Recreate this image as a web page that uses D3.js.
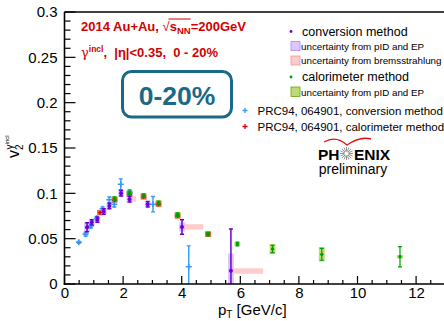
<!DOCTYPE html>
<html>
<head>
<meta charset="utf-8">
<script src="https://cdn.jsdelivr.net/npm/d3@7"></script>
<style>
  html, body { margin: 0; padding: 0; background: #fff; }
  svg { display: block; font-family: "Liberation Sans", Arial, Helvetica, sans-serif; }
</style>
</head>
<body>
<svg id="chart" width="444" height="321"></svg>
<script>
// 2014 Au+Au conversion method (photon v2)
const convPt   = [0.77, 0.93, 1.12, 1.34, 1.53, 1.93, 2.22, 2.84, 4.01, 5.68];
const convV2   = [0.0625, 0.068, 0.071, 0.080, 0.086, 0.100, 0.0934, 0.088, 0.063, 0.0147];
const convStat = [0.005, 0.003, 0.003, 0.003, 0.003, 0.003, 0.003, 0.003, 0.008, 0.046];
const convSys  = [0.0055, 0.004, 0.003, 0.003, 0.003, 0.004, 0.004, 0.003, 0.005, 0.019];
// bremsstrahlung uncertainty boxes (pT extent to the right, half height)
const bremPt   = [2.22, 4.01, 5.68];
const bremV2   = [0.0935, 0.063, 0.0143];
const bremDx   = [0.22, 0.72, 1.1];
const bremHalf = [0.003, 0.003, 0.003];

// 2014 Au+Au calorimeter method
const caloPt   = [1.71, 2.22, 2.70, 3.21, 3.86, 4.90, 5.90, 7.10, 8.78, 11.45];
const caloV2   = [0.094, 0.1005, 0.0975, 0.0895, 0.0765, 0.055, 0.0441, 0.0386, 0.0327, 0.030];
const caloStat = [0.002, 0.002, 0.002, 0.002, 0.002, 0.002, 0.002, 0.004, 0.0065, 0.0112];
const caloSys  = [0.003, 0.003, 0.003, 0.003, 0.003, 0.003, 0.002, 0.0055, 0.008, 0.002];

// PRC94, 064901 conversion method
const prcConvPt   = [0.49, 0.72, 0.90, 1.10, 1.30, 1.53, 1.70, 1.92, 2.22, 3.02, 4.24];
const prcConvV2   = [0.046, 0.055, 0.064, 0.0725, 0.083, 0.093, 0.088, 0.110, 0.101, 0.088, 0.019];
const prcConvStat = [0.001, 0.002, 0.002, 0.002, 0.002, 0.003, 0.003, 0.006, 0.003, 0.0085, 0.023];

// PRC94, 064901 calorimeter method
const prcCaloPt  = [1.21, 1.71, 2.22, 2.70, 3.21, 3.86, 4.90];
const prcCaloV2  = [0.0787, 0.0926, 0.099, 0.096, 0.088, 0.075, 0.055];
const prcCaloSys = [0.003, 0.003, 0.003, 0.003, 0.003, 0.003, 0.003];

const xTicks = [0, 2, 4, 6, 8, 10, 12];
const yTicks = [0, 0.05, 0.1, 0.15, 0.2, 0.25, 0.3];

const svg = d3.select("#chart");
const x = d3.scaleLinear().domain([0, 13]).range([64.5, 445.4]);
const y = d3.scaleLinear().domain([0, 0.3]).range([284, 12]);

const C = {
  conv: "#6a00d8", convBox: "rgba(200,160,255,0.6)", brem: "rgba(255,170,170,0.6)",
  calo: "#00a000", caloBox: "rgba(150,200,40,0.65)",
  prcConv: "#3399ff", prcCalo: "#e00000", prcCaloBox: "rgba(240,70,30,0.8)"
};

const plot = svg.append("g");
const clipId = "plotclip";
svg.append("defs").append("clipPath").attr("id", clipId)
  .append("rect").attr("x", 64.5).attr("y", 12).attr("width", 381).attr("height", 272);
const data = plot.append("g").attr("clip-path", `url(#${clipId})`);

const half = 0.1; // half width of systematic boxes in GeV/c
function boxes(pt, v, h, fill) {
  data.append("g").selectAll("rect").data(pt).join("rect")
    .attr("x", (d) => x(d - half)).attr("width", (d) => x(d + half) - x(d - half))
    .attr("y", (d, i) => y(v[i] + h[i])).attr("height", (d, i) => y(v[i] - h[i]) - y(v[i] + h[i]))
    .attr("fill", fill);
}
function errBars(pt, v, e, color, w, cap) {
  const g = data.append("g").attr("stroke", color).attr("stroke-width", w);
  pt.forEach((p, i) => {
    g.append("line").attr("x1", x(p)).attr("x2", x(p)).attr("y1", y(v[i] + e[i])).attr("y2", y(v[i] - e[i]));
    if (cap) {
      [v[i] + e[i], v[i] - e[i]].forEach((yy) => {
        g.append("line").attr("x1", x(p) - cap).attr("x2", x(p) + cap).attr("y1", y(yy)).attr("y2", y(yy));
      });
    }
  });
}

// systematic boxes
boxes(caloPt, caloV2, caloSys, C.caloBox);
boxes(prcCaloPt, prcCaloV2, prcCaloSys, C.prcCaloBox);
boxes(convPt, convV2, convSys, C.convBox);
data.append("g").selectAll("rect").data(bremPt).join("rect")
  .attr("x", (d) => x(d + 0.08)).attr("width", (d, i) => x(d + bremDx[i]) - x(d + 0.08))
  .attr("y", (d, i) => y(bremV2[i] + bremHalf[i])).attr("height", (d, i) => y(bremV2[i] - bremHalf[i]) - y(bremV2[i] + bremHalf[i]))
  .attr("fill", C.brem);

// PRC94 conversion: blue crosses
errBars(prcConvPt, prcConvV2, prcConvStat, C.prcConv, 1.4, 2);
data.append("g").attr("stroke", C.prcConv).attr("stroke-width", 1.6).selectAll("path")
  .data(prcConvPt).join("path")
  .attr("d", (d, i) => `M${x(d) - 3},${y(prcConvV2[i])}h6M${x(d)},${y(prcConvV2[i]) - 3}v6`);

// PRC94 calorimeter: red crosses
data.append("g").attr("stroke", C.prcCalo).attr("stroke-width", 1.4).selectAll("path")
  .data(prcCaloPt).join("path")
  .attr("d", (d, i) => `M${x(d) - 2},${y(prcCaloV2[i])}h4M${x(d)},${y(prcCaloV2[i]) - 2}v4`);

// calorimeter method: green points
errBars(caloPt, caloV2, caloStat, C.calo, 1.2, 2);
data.append("g").attr("fill", C.calo).selectAll("circle").data(caloPt).join("circle")
  .attr("cx", (d) => x(d)).attr("cy", (d, i) => y(caloV2[i])).attr("r", 1.7);

// conversion method: purple points
errBars(convPt, convV2, convStat, C.conv, 1.5, 2);
data.append("g").attr("fill", C.conv).selectAll("circle").data(convPt).join("circle")
  .attr("cx", (d) => x(d)).attr("cy", (d, i) => y(convV2[i])).attr("r", 2);

// axes
const axX = d3.axisBottom(x).tickValues(xTicks).tickFormat(d3.format("d")).tickSize(0).tickPadding(3);
const gx = svg.append("g").attr("transform", "translate(0,284)").call(axX);
gx.select(".domain").remove();
gx.selectAll("text").attr("font-size", 15).attr("fill", "#000").attr("font-family", "Liberation Sans, Arial, sans-serif");
const axY = d3.axisLeft(y).tickValues(yTicks).tickFormat((d) => d3.format("~g")(d)).tickSize(0).tickPadding(7);
const gy = svg.append("g").attr("transform", "translate(64.5,0)").call(axY);
gy.select(".domain").remove();
gy.selectAll("text").attr("font-size", 15).attr("fill", "#000").attr("font-family", "Liberation Sans, Arial, sans-serif");

// tick marks drawn inside the frame
const tk = svg.append("g").attr("stroke", "#000").attr("stroke-width", 1.2);
d3.range(0, 13.01, 0.5).forEach((v) => {
  const major = Math.abs(v % 2) < 1e-9;
  tk.append("line").attr("x1", x(v)).attr("x2", x(v)).attr("y1", 284).attr("y2", 284 - (major ? 8 : 4));
});
d3.range(0, 0.3001, 0.01).forEach((v, i) => {
  const major = i % 5 === 0;
  tk.append("line").attr("x1", 64.5).attr("x2", 64.5 + (major ? 11 : 6)).attr("y1", y(v)).attr("y2", y(v));
});
// frame
const fr = svg.append("g").attr("stroke", "#000").attr("stroke-width", 1.6).attr("fill", "none");
fr.append("line").attr("x1", 64.5).attr("x2", 64.5).attr("y1", 12).attr("y2", 284.8);
fr.append("line").attr("x1", 63.7).attr("x2", 445).attr("y1", 284).attr("y2", 284);
fr.append("line").attr("x1", 64.5).attr("x2", 445).attr("y1", 12).attr("y2", 12);

// axis titles
const xt = svg.append("text").attr("x", 218).attr("y", 315).attr("font-size", 15);
xt.append("tspan").text("p");
xt.append("tspan").attr("font-size", 10).attr("dy", 3).text("T");
xt.append("tspan").attr("dy", -3).text(" [GeV/c]");

const yt = svg.append("text").attr("transform", "translate(19,158) rotate(-90)").attr("font-size", 16);
yt.append("tspan").text("v");
yt.append("tspan").attr("font-size", 10).attr("dy", 4).attr("dx", 0).text("2");
yt.append("tspan").attr("font-size", 10).attr("dy", -10).attr("dx", -5).text("γ");
yt.append("tspan").attr("font-size", 6).attr("dy", -4).text("incl");

// header text
const red = "#d10000";
const h1 = svg.append("text").attr("x", 81).attr("y", 31).attr("font-size", 13)
  .attr("font-weight", "bold").attr("fill", red);
h1.append("tspan").text("2014 Au+Au, ");
h1.append("tspan").attr("font-weight", "normal").text("√");
h1.append("tspan").text("s");
h1.append("tspan").attr("font-size", 9.5).attr("dy", 3).text("NN");
h1.append("tspan").attr("dy", -3).text("=200GeV");
{
  // overline of the square root
  const n = h1.node();
  const s0 = "2014 Au+Au, √".length;
  const xa = n.getStartPositionOfChar(s0 - 1).x + 6;
  const xb = n.getEndPositionOfChar(s0 + 2).x;
  svg.append("line").attr("x1", xa).attr("x2", xb).attr("y1", 19).attr("y2", 19)
    .attr("stroke", red).attr("stroke-width", 1);
}
const h2 = svg.append("text").attr("x", 81).attr("y", 57).attr("font-size", 13)
  .attr("font-weight", "bold").attr("fill", red);
h2.append("tspan").attr("font-weight", "normal").attr("font-family", "DejaVu Serif, serif").text("γ");
h2.append("tspan").attr("font-size", 8.5).attr("dy", -5).text("incl");
h2.append("tspan").attr("dy", 5).text(",\u00a0 |η|<0.35,\u00a0 0 - 20%");

// centrality badge
svg.append("rect").attr("x", 122.5).attr("y", 71.5).attr("width", 109).attr("height", 45.5)
  .attr("rx", 9).attr("fill", "none").attr("stroke", "#1a6a87").attr("stroke-width", 3);
svg.append("text").attr("x", 177).attr("y", 105).attr("text-anchor", "middle")
  .attr("font-size", 26.5).attr("font-weight", "bold").attr("fill", "#1a6a87").text("0-20%");

// legend
const lg = svg.append("g").attr("font-family", "Liberation Sans, Arial, sans-serif");
lg.append("circle").attr("cx", 291).attr("cy", 31.5).attr("r", 1.4).attr("fill", C.conv);
lg.append("text").attr("x", 302).attr("y", 35.5).attr("font-size", 12.5).text("conversion method");
lg.append("rect").attr("x", 291).attr("y", 41.5).attr("width", 9).attr("height", 9).attr("fill", C.convBox).attr("stroke", "rgba(170,120,240,0.7)");
lg.append("text").attr("x", 301).attr("y", 49.5).attr("font-size", 9.8).text("uncertainty from pID and EP");
lg.append("rect").attr("x", 291).attr("y", 56).attr("width", 9).attr("height", 9).attr("fill", C.brem).attr("stroke", "rgba(240,140,140,0.7)");
lg.append("text").attr("x", 301).attr("y", 64).attr("font-size", 9.8).text("uncertainty from bremsstrahlung");
lg.append("circle").attr("cx", 291).attr("cy", 77).attr("r", 1.4).attr("fill", C.calo);
lg.append("text").attr("x", 302).attr("y", 81).attr("font-size", 12.5).text("calorimeter method");
lg.append("rect").attr("x", 291).attr("y", 87).attr("width", 9).attr("height", 9.5).attr("fill", C.caloBox).attr("stroke", "rgba(110,160,20,0.8)");
lg.append("text").attr("x", 301).attr("y", 95.5).attr("font-size", 9.8).text("uncertainty from pID and EP");
lg.append("path").attr("d", "M242.5,110.5h5M245,108v5").attr("stroke", C.prcConv).attr("stroke-width", 1.3);
lg.append("text").attr("x", 257.5).attr("y", 114.5).attr("font-size", 11.5).text("PRC94, 064901, conversion method");
lg.append("path").attr("d", "M242.5,126.5h5M245,124v5").attr("stroke", C.prcCalo).attr("stroke-width", 1.3);
lg.append("text").attr("x", 257.5).attr("y", 130.5).attr("font-size", 11.5).text("PRC94, 064901, calorimeter method");

// PHENIX logo
const lx = 350;
svg.append("path").attr("d", `M${lx - 26},142 Q${lx - 14},135 ${lx - 3},145 Q${lx + 10},136 ${lx + 21},139`)
  .attr("fill", "none").attr("stroke", "#e01010").attr("stroke-width", 1.3);
const ph = svg.append("text").attr("y", 159.5).attr("font-size", 15.5).attr("font-weight", "bold").attr("fill", "#000");
ph.append("tspan").attr("x", 318).text("PH");
ph.append("tspan").attr("x", 354).text("ENIX");
const star = svg.append("g").attr("stroke", "#888").attr("stroke-width", 0.9);
d3.range(16).forEach((k) => {
  const a = k * Math.PI / 8;
  star.append("line").attr("x1", 346.5 + 2 * Math.cos(a)).attr("y1", 153.5 + 2 * Math.sin(a))
    .attr("x2", 346.5 + 6.5 * Math.cos(a)).attr("y2", 153.5 + 6.5 * Math.sin(a));
});
svg.append("text").attr("x", 353).attr("y", 174).attr("text-anchor", "middle").attr("font-size", 14).text("preliminary");
</script>
</body>
</html>
